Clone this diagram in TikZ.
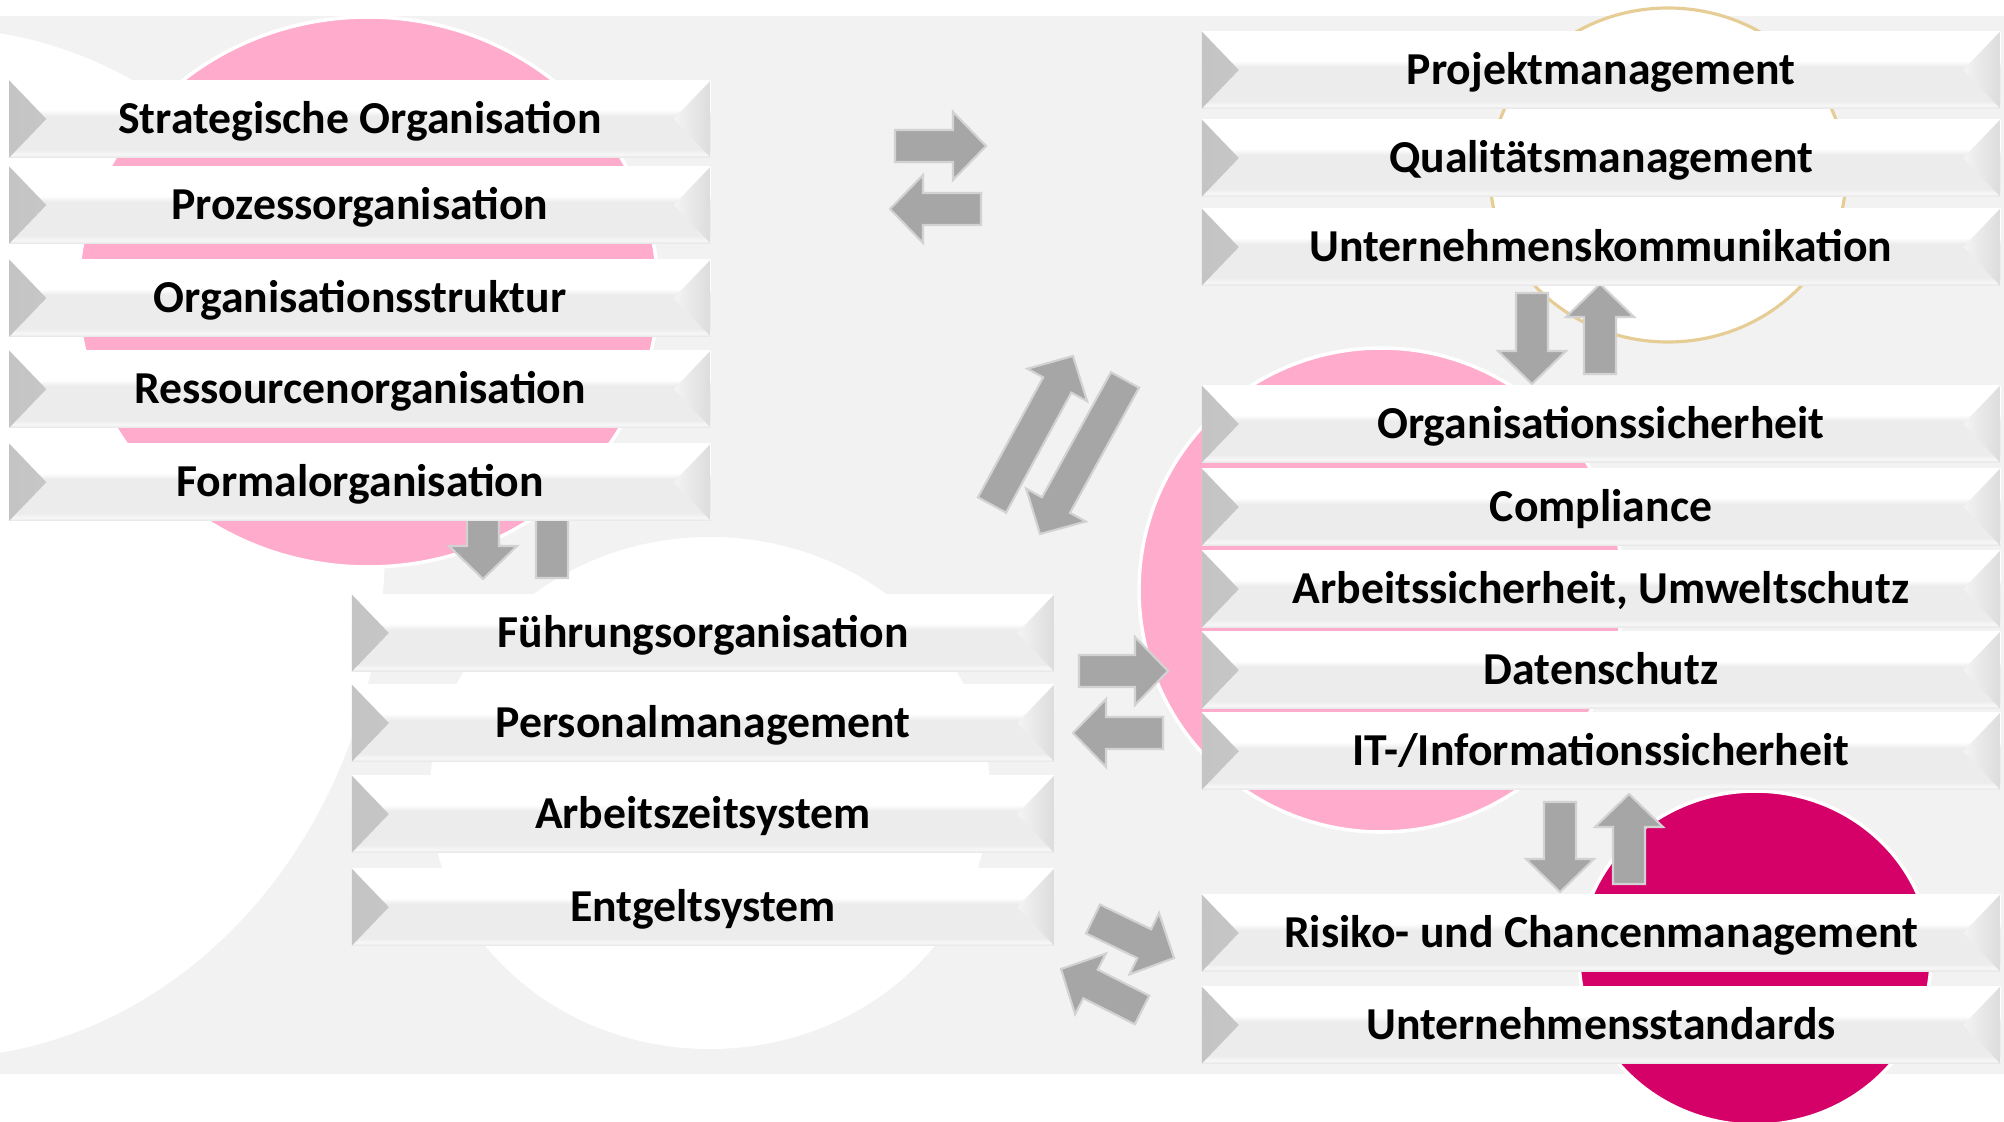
\documentclass[tikz,border=0pt]{standalone}
\usepackage{fontspec}
\setmainfont{Carlito}
\usetikzlibrary{shapes,positioning,calc}

\definecolor{bggrey}{HTML}{F2F2F2}
\definecolor{softpink}{HTML}{FFABCC}
\definecolor{deepmagenta}{HTML}{D50068}
\definecolor{goldline}{HTML}{E6CD95}
\definecolor{arrowgrey}{HTML}{A6A6A6}
\definecolor{arrowline}{HTML}{D2D2D2}
\definecolor{boxgrey}{HTML}{ECECEC}
\definecolor{boxlight}{HTML}{F7F7F7}
\definecolor{boxedge}{HTML}{E6E6E6}
\definecolor{bevdark}{HTML}{C4C4C4}
\definecolor{bevlight}{HTML}{EDEDED}
\definecolor{bevedge}{HTML}{DCDCDC}
\definecolor{bevfaint}{HTML}{F4F4F4}

\pgfdeclareverticalshading{boxshade}{100bp}{color(0bp)=(boxedge); color(25bp)=(boxedge); color(27bp)=(boxlight); color(30bp)=(boxgrey); color(52bp)=(boxgrey); color(56bp)=(white); color(75bp)=(white); color(100bp)=(white)}

\newcommand{\blockarrow}[2]{%
  \coordinate (#1-#2) at ($(#2)!0.33cm!(#1)$);
  \draw [blockarrow] ($(#1)!0.16cm!90:(#2)$) -- ($(#1-#2)!0.16cm!90:(#2)$) -- ($(#1-#2)!0.34cm!90:(#2)$) -- (#2)
     -- ($(#1-#2)!0.34cm!-90:(#2)$) -- ($(#1-#2)!0.16cm!-90:(#2)$) -- ($(#1)!0.16cm!-90:(#2)$) -- cycle;
}

\tikzset{
tbox/.style = {rectangle, shade, shading=boxshade, minimum height=0.77cm, inner sep=0pt, align=center,
  font=\fontsize{13}{15}\selectfont\bfseries, text height=8.4pt, text depth=0pt,
  path picture={
    \shade [left color=bevdark, right color=bevlight] (path picture bounding box.north west)
      -- ([xshift=0.37cm]path picture bounding box.west) -- (path picture bounding box.south west) -- cycle;
    \shade [left color=bevfaint, right color=bevedge] (path picture bounding box.north east)
      -- ([xshift=-0.37cm]path picture bounding box.east) -- (path picture bounding box.south east) -- cycle;
  }},
leftbox/.style = {tbox, minimum width=7.01cm},
midbox/.style = {tbox, minimum width=7.02cm},
rightbox/.style = {tbox, minimum width=7.98cm},
blockarrow/.style = {draw=arrowline, fill=arrowgrey, line width=0.6pt},
blob/.style = {draw=white, line width=1pt},
}

\begin{document}
\begin{tikzpicture}[x=0.01cm, y=-0.01cm]
    \useasboundingbox [fill=white] (0,0) rectangle (2004,1122);
    \fill [bggrey] (0,16) rectangle (2004,1074);

    % backdrop
    \fill [white] (-65,543) ellipse [x radius=450, y radius=515];
    \fill [white] (710,793) ellipse [x radius=280, y radius=256];
    \filldraw [blob, fill=softpink] (368,292) ellipse [x radius=290, y radius=275];
    \filldraw [draw=goldline, line width=0.9pt, fill=white] (1668,175) ellipse [x radius=178, y radius=167];
    \filldraw [blob, fill=softpink] (1381,590) circle [radius=242];
    \filldraw [blob, fill=deepmagenta] (1755,958) ellipse [x radius=176, y radius=167];

    \coordinate (o1s) at (895,146);  \coordinate (o1e) at (986,146);
    \coordinate (o2s) at (981,209);  \coordinate (o2e) at (890,209);
    \coordinate (d1s) at (992,505);  \coordinate (d1e) at (1073,356);
    \coordinate (d2s) at (1125,380); \coordinate (d2e) at (1040,534);
    \coordinate (f1s) at (483,500);  \coordinate (f1e) at (483,579);
    \coordinate (f2s) at (552,578);  \coordinate (f2e) at (552,480);
    \coordinate (m1s) at (1079,671); \coordinate (m1e) at (1168,671);
    \coordinate (m2s) at (1163,733); \coordinate (m2e) at (1073,733);
    \coordinate (r1s) at (1093,919); \coordinate (r1e) at (1174,958);
    \coordinate (r2s) at (1142,1010);\coordinate (r2e) at (1061,969);
    \coordinate (k1s) at (1532,293); \coordinate (k1e) at (1532,384);
    \coordinate (k2s) at (1600,374); \coordinate (k2e) at (1600,284);
    \coordinate (i1s) at (1560,802); \coordinate (i1e) at (1560,892);
    \coordinate (i2s) at (1629,884); \coordinate (i2e) at (1629,794);

    \foreach \a in {o1,o2,d1,d2,f1,f2,m1,m2,r1,r2,k1,k2,i1,i2}
        \blockarrow{\a s}{\a e};

    % left column
    \node [leftbox, name=strat] at (360,119) {Strategische Organisation};
    \node [leftbox, name=prozess, below of=strat, node distance=0.86cm] {Prozessorganisation};
    \node [leftbox, name=struktur, below of=prozess, node distance=0.93cm] {Organisationsstruktur};
    \node [leftbox, name=ressourcen, below of=struktur, node distance=0.91cm] {Ressourcenorganisation};
    \node [leftbox, name=formal, below of=ressourcen, node distance=0.93cm] {Formalorganisation};

    % middle column
    \node [midbox, name=fuehrung] at (703,633) {Führungsorganisation};
    \node [midbox, name=personal, below of=fuehrung, node distance=0.90cm] {Personalmanagement};
    \node [midbox, name=arbeitszeit, below of=personal, node distance=0.91cm] {Arbeitszeitsystem};
    \node [midbox, name=entgelt, below of=arbeitszeit, node distance=0.93cm] {Entgeltsystem};

    % right column
    \node [rightbox, name=projekt] at (1601,70) {Projektmanagement};
    \node [rightbox, name=qualitaet, below of=projekt, node distance=0.88cm] {Qualitätsmanagement};
    \node [rightbox, name=kommunikation, below of=qualitaet, node distance=0.89cm] {Unternehmenskommunikation};

    \node [rightbox, name=orgsicher] at (1601,424) {Organisationssicherheit};
    \node [rightbox, name=compliance, below of=orgsicher, node distance=0.83cm] {Compliance};
    \node [rightbox, name=arbeitssicher, below of=compliance, node distance=0.82cm] {Arbeitssicherheit, Umweltschutz};
    \node [rightbox, name=datenschutz, below of=arbeitssicher, node distance=0.81cm] {Datenschutz};
    \node [rightbox, name=itsicher, below of=datenschutz, node distance=0.81cm] {IT-/Informationssicherheit};

    \node [rightbox, name=risiko] at (1601,933) {Risiko- und Chancenmanagement};
    \node [rightbox, name=standards, below of=risiko, node distance=0.92cm] {Unternehmensstandards};
\end{tikzpicture}
\end{document}
